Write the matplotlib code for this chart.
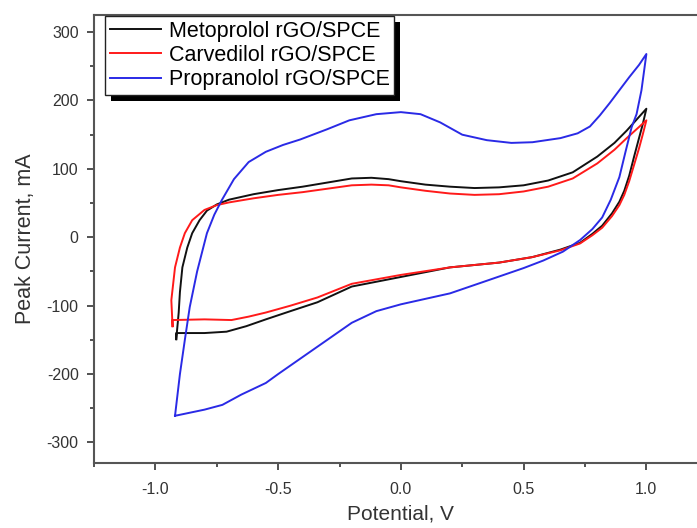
import matplotlib
matplotlib.use('Agg')
import matplotlib.pyplot as plt
from matplotlib.patches import Rectangle
from matplotlib.ticker import MultipleLocator

plt.rcParams['font.family'] = ['Liberation Sans', 'DejaVu Sans']
plt.rcParams['axes.unicode_minus'] = False

# cyclic voltammograms (potential V, current mA)
# metoprolol rGO/SPCE
meto_v = [-0.915, -0.905, -0.90, -0.89, -0.87, -0.85, -0.82, -0.79, -0.75, -0.70, -0.60, -0.50,
          -0.40, -0.30, -0.20, -0.12, -0.05, 0.0, 0.1, 0.2, 0.3, 0.4, 0.5, 0.6, 0.7, 0.8, 0.87,
          0.92, 0.96, 1.0,
          0.985, 0.97, 0.95, 0.93, 0.91, 0.89, 0.86, 0.82, 0.78, 0.73, 0.65, 0.535, 0.4, 0.2, 0.0,
          -0.2, -0.34, -0.45, -0.55, -0.63, -0.71, -0.8, -0.915, -0.915]
meto_i = [-149, -110, -80, -44, -15, 6, 25, 39, 48, 55, 63, 69,
          74, 80, 86, 87, 85, 82, 77, 74, 72, 73, 76, 83, 95, 118, 138,
          156, 172, 188,
          165, 145, 118, 90, 68, 52, 35, 17, 5, -8, -18, -29, -37, -44, -58,
          -72, -95, -108, -120, -130, -138, -140, -140, -149]

# carvedilol rGO/SPCE
carv_v = [-0.93, -0.935, -0.925, -0.92, -0.90, -0.88, -0.85, -0.80, -0.75, -0.70, -0.60, -0.50,
          -0.40, -0.30, -0.20, -0.12, -0.05, 0.0, 0.1, 0.2, 0.3, 0.4, 0.5, 0.6, 0.7, 0.8, 0.87,
          0.92, 0.96, 1.0,
          0.985, 0.97, 0.95, 0.93, 0.91, 0.89, 0.86, 0.82, 0.78, 0.73, 0.65, 0.535, 0.4, 0.2, 0.0,
          -0.2, -0.34, -0.45, -0.55, -0.62, -0.69, -0.8, -0.93, -0.93]
carv_i = [-130, -92, -60, -44, -15, 6, 25, 40, 47, 51, 57, 62,
          66, 71, 76, 77, 76, 73, 68, 64, 62, 63, 67, 74, 86, 108, 128,
          145, 158, 171,
          150, 130, 106, 82, 62, 47, 31, 14, 3, -9, -19, -29, -37, -44, -55,
          -68, -88, -100, -110, -116, -121, -120, -121, -130]

# propranolol rGO/SPCE
prop_v = [-0.92, -0.90, -0.88, -0.86, -0.83, -0.79, -0.76, -0.73, -0.68, -0.62, -0.55, -0.48,
          -0.41, -0.30, -0.21, -0.10, 0.0, 0.08, 0.16, 0.25, 0.35, 0.45, 0.536, 0.65, 0.72,
          0.77, 0.81, 0.85, 0.89, 0.93, 0.97, 1.0,
          0.98, 0.96, 0.94, 0.915, 0.89, 0.855, 0.82, 0.78, 0.73, 0.66, 0.58, 0.5, 0.33, 0.2, 0.0,
          -0.1, -0.2, -0.3, -0.4, -0.5, -0.55, -0.65, -0.727, -0.8, -0.92]
prop_i = [-261, -200, -150, -102, -50, 6, 33, 54, 85, 110, 125, 135,
          143, 158, 171, 180, 183, 180, 168, 150, 142, 138, 139, 145, 152,
          162, 178, 196, 215, 234, 252, 268,
          215, 180, 161, 125, 88, 55, 29, 12, -4, -21, -34, -45, -66, -82, -98,
          -108, -125, -150, -175, -200, -213, -230, -245, -252, -261]

fig = plt.figure(figsize=(6.97, 5.28), dpi=100)
# axes run a little past the right edge, as in the cropped original
ax = fig.add_axes([94 / 697, 65 / 528, 613.75 / 697, 448 / 528])

ax.plot(meto_v, meto_i, color='#111111', lw=1.4, label='Metoprolol rGO/SPCE')
ax.plot(carv_v, carv_i, color='#ff1a1a', lw=1.4, label='Carvedilol rGO/SPCE')
ax.plot(prop_v, prop_i, color='#2a2ae6', lw=1.4, label='Propranolol rGO/SPCE')

ax.set_xlim(-1.25, 1.25)
ax.set_ylim(-330, 325)
ax.xaxis.set_major_locator(MultipleLocator(0.5))
ax.xaxis.set_minor_locator(MultipleLocator(0.25))
ax.yaxis.set_major_locator(MultipleLocator(100))
ax.yaxis.set_minor_locator(MultipleLocator(50))
ax.tick_params(which='both', direction='out', colors='#333333', labelsize=11.5, width=1.2)
ax.tick_params(which='major', length=5)
ax.tick_params(which='minor', length=3)
ax.tick_params(axis='x', pad=9)
ax.tick_params(axis='y', pad=6)
for s in ax.spines.values():
    s.set_color('#555555')
    s.set_linewidth(1.5)

ax.set_xlabel('Potential, V', fontsize=15, color='#333333', labelpad=5)
ax.set_ylabel('Peak Current, mA', fontsize=15.5, color='#333333', labelpad=8)

leg = ax.legend(loc='upper left', bbox_to_anchor=(0.018, 0.998), borderaxespad=0,
                fontsize=15.5, frameon=True, fancybox=False, framealpha=1,
                edgecolor='#222222', handlelength=2.4, labelspacing=0.15,
                borderpad=0.22, handletextpad=0.33)
leg.get_frame().set_linewidth(1.0)

# black drop shadow under the legend box
fig.canvas.draw()
bb = leg.get_window_extent().transformed(ax.transAxes.inverted())
dx = 6 / 613.75
dy = 6 / 448
ax.add_patch(Rectangle((bb.x0 + dx, bb.y0 - dy), bb.width, bb.height, transform=ax.transAxes,
                       facecolor='black', edgecolor='none', zorder=4.9, clip_on=False))

fig.savefig('out.png', dpi=100)
